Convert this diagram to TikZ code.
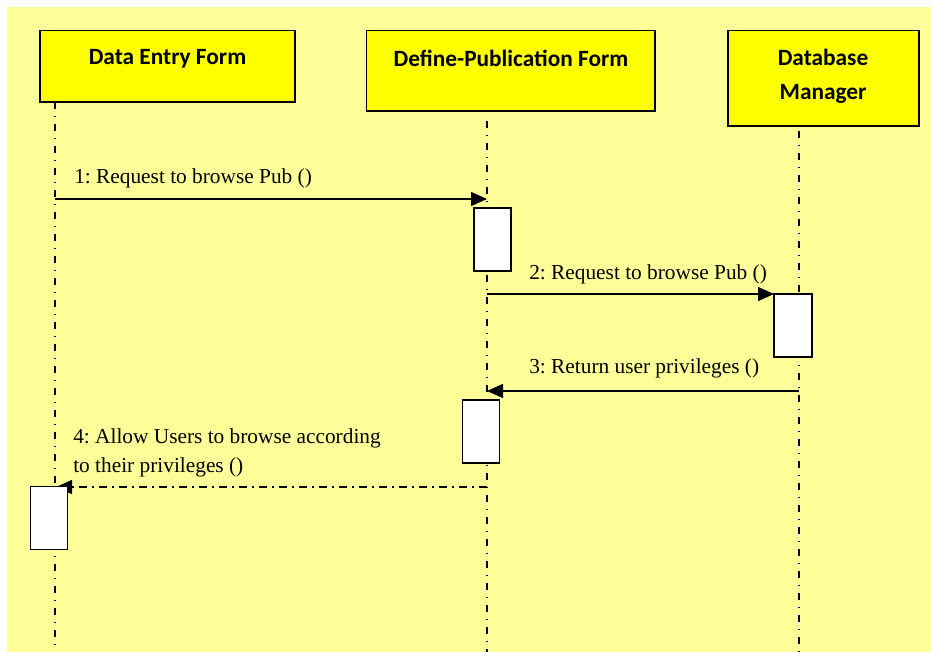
\documentclass[tikz,border=0pt]{standalone}
\usepackage{fontspec}
\setmainfont{Liberation Serif}
\newfontfamily\headfont{Carlito}
\usetikzlibrary{arrows.meta}
\definecolor{paper}{HTML}{FFFF99}
\definecolor{headfill}{HTML}{FFFF00}
\frenchspacing
\begin{document}
\begin{tikzpicture}[x=0.75pt,y=-0.75pt,
  objbox/.style={draw=black, fill=headfill, line width=1.4pt, inner sep=0pt},
  objtext/.style={font=\headfont\bfseries\fontsize{17.5}{25.5}\selectfont, align=center, inner sep=0pt},
  actbox/.style={draw=black, fill=white, line width=1.2pt, inner sep=0pt,
                 minimum width=27.5pt, minimum height=47pt},
  lifeline/.style={line width=1.4pt, dash pattern=on 5.25pt off 5.25pt on 1.1pt off 4.9pt},
  msg/.style={line width=1.1pt, -{Triangle[length=12pt,width=10.5pt]}},
  reply/.style={line width=1.1pt, dash pattern=on 6pt off 3.75pt on 1.5pt off 3.75pt,
                -{Triangle[length=12pt,width=10.5pt]}},
  msgtext/.style={font=\fontsize{16}{21.75}\selectfont, inner sep=0pt, anchor=west, align=left}]

\useasboundingbox (0,0) rectangle (931,652);
\fill[paper] (7,7) rectangle (931,652);

% object heads
\node[objbox, minimum width=191.25pt, minimum height=53.6pt] (entry) at (167.5,66.25) {};
\node[objbox, minimum width=216.4pt, minimum height=60.15pt] (define) at (510.75,70.6) {};
\node[objbox, minimum width=143.25pt, minimum height=71.6pt] (dbm) at (823.5,78.2) {};
\node[objtext] (entrytxt) at (167.5,58.5) {Data Entry Form};
\node[objtext] (definetxt) at (511,58.5) {Define-Publication Form};
\node[objtext, anchor=north] (dbmtxt) at (823,48.5) {Database\\Manager};

% lifelines
\coordinate (l1top) at (55,102);
\coordinate (l1bot) at (55,652);
\coordinate (l2top) at (487,121);
\coordinate (l2bot) at (487,652);
\coordinate (l3top) at (799,131);
\coordinate (l3bot) at (799,652);
\draw[lifeline] (l1top) -- (l1bot);
\draw[lifeline] (l2top) -- (l2bot);
\draw[lifeline] (l3top) -- (l3bot);

% message end points
\coordinate (m1s) at (55,199);
\coordinate (m1e) at (487,199);
\coordinate (m2s) at (487,294);
\coordinate (m2e) at (774,294);
\coordinate (m3s) at (799,391);
\coordinate (m3e) at (487,391);
\coordinate (m4s) at (487,487);
\coordinate (m4e) at (56,487);

% messages
\draw[msg] (m1s) -- (m1e);
\draw[msg] (m2s) -- (m2e);
\draw[msg] (m3s) -- (m3e);
\draw[reply] (m4s) -- (m4e);

\node[msgtext] (t1) at (74,178.5) {1: Request to browse Pub ()};
\node[msgtext] (t2) at (529,274.5) {2: Request to browse Pub ()};
\node[msgtext] (t3) at (529,368.5) {3: Return user privileges ()};
\node[msgtext] (t4) at (73,453) {4: Allow Users to browse according\\to their privileges ()};

% activation bars
\node[actbox] (act1) at (492.5,239.5) {};
\node[actbox, minimum width=28.5pt] (act2) at (793,325.5) {};
\node[actbox] (act3) at (481,431.5) {};
\node[actbox] (act4) at (49,518) {};
\end{tikzpicture}
\end{document}
